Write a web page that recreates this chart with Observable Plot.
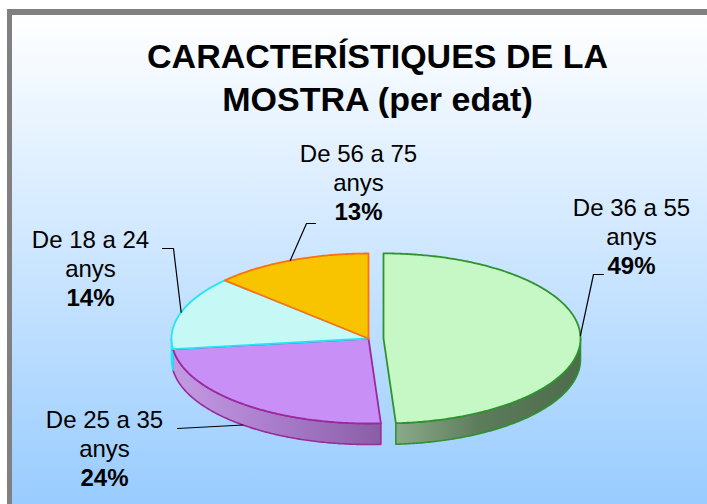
<!DOCTYPE html>
<html><head><meta charset="utf-8">
<script src="https://cdn.jsdelivr.net/npm/d3@7"></script>
<script src="https://cdn.jsdelivr.net/npm/@observablehq/plot@0.6"></script>
<style>
html,body{margin:0;padding:0;overflow:hidden;background:#fff;width:707px;height:504px}
#bg{position:absolute;left:7px;top:9px;width:695px;height:489px;border-top:6px solid #808080;border-left:5px solid #808080;background:linear-gradient(to bottom,#ffffff 0%,#99ccff 100%)}
#chart{position:absolute;left:0;top:0}
</style></head><body>
<div id="bg"></div><div id="chart"></div>
<script>
// ---- data ----
const titleLines = ["CARACTERÍSTIQUES DE LA", "MOSTRA (per edat)"];
const categories = ["De 36 a 55", "De 25 a 35", "De 18 a 24", "De 56 a 75"];
const unitLabel = "anys";
const values = [49, 24, 14, 13];

// ---- styling / layout ----
const topFill   = ["#c6f8c6", "#c890f6", "#c6f8f6", "#f8c400"];
const edgeColor = ["#2f922f", "#9a2a9e", "#22e6f6", "#ff7010"];
const wallIds   = ["wall0", "wall1", "wall2", "wall3"];
const explode   = [15, 0, 0, 0];
const labelPos  = [[631, 216], [104, 428], [90, 248], [358, 162]];
const leaderElbows = [[[593, 274], [603, 274]], [[177, 428]], [[173, 248], [162, 248]], [[306, 223], [315, 223]]];
const CX = 368, CY = 338, RX = 197, RY = 85, DEPTH = 21;
const FONT = "Liberation Sans, Arial, Helvetica, sans-serif";

const arcs = d3.pie().sort(null).value(d => d)(values);
const rim = (cx, cy, a, dz = 0) => [cx + RX * Math.sin(a), cy - RY * Math.cos(a) + dz];

const tops = [], walls = [], leaders = [];
arcs.forEach((arc, i) => {
  const mid = (arc.startAngle + arc.endAngle) / 2;
  const cx = CX + explode[i] * Math.sin(mid);
  const cy = CY - explode[i] * Math.cos(mid) * 0.2;
  const steps = Math.max(8, Math.ceil((arc.endAngle - arc.startAngle) / 0.01));
  const pts = [[cx, cy]];
  for (let k = 0; k <= steps; k++) pts.push(rim(cx, cy, arc.startAngle + (arc.endAngle - arc.startAngle) * k / steps));
  pts.push([cx, cy]);
  pts.forEach(([x, y], k) => tops.push({slice: i, k, x, y}));
  // front wall
  const a0 = Math.max(arc.startAngle, Math.PI / 2), a1 = Math.min(arc.endAngle, 3 * Math.PI / 2);
  if (a1 > a0) {
    const w = [];
    const n = Math.max(4, Math.ceil((a1 - a0) / 0.01));
    for (let k = 0; k <= n; k++) w.push(rim(cx, cy, a0 + (a1 - a0) * k / n));
    for (let k = n; k >= 0; k--) w.push(rim(cx, cy, a0 + (a1 - a0) * k / n, DEPTH));
    w.push(w[0]);
    w.forEach(([x, y], k) => walls.push({slice: i, k, x, y}));
  }
  // leader
  const anchor = rim(cx, cy, mid, Math.cos(mid) < 0 ? DEPTH : 0);
  [anchor, ...leaderElbows[i]].forEach(([x, y], k) => leaders.push({slice: i, k, x, y}));
});

const labelRows = [];
arcs.forEach((arc, i) => {
  const [lx, ly] = labelPos[i];
  labelRows.push({x: lx, y: ly - 8, text: categories[i], bold: false});
  labelRows.push({x: lx, y: ly - 8 + 29, text: unitLabel, bold: false});
  labelRows.push({x: lx, y: ly - 8 + 58, text: values[i] + "%", bold: true});
});

const marks = [];
arcs.forEach((arc, i) => {
  const w = walls.filter(d => d.slice === i);
  if (w.length) marks.push(Plot.line(w, {x: "x", y: "y", fill: `url(#${wallIds[i]})`, stroke: edgeColor[i], strokeWidth: 1.6, curve: "linear"}));
});
arcs.forEach((arc, i) => {
  marks.push(Plot.line(tops.filter(d => d.slice === i), {x: "x", y: "y", fill: topFill[i], stroke: edgeColor[i], strokeWidth: 1.8, strokeLinejoin: "round", curve: "linear"}));
});
marks.push(Plot.line(leaders, {x: "x", y: "y", z: "slice", stroke: "#000", strokeWidth: 1.2, curve: "linear"}));
marks.push(Plot.text(labelRows.filter(d => !d.bold), {x: "x", y: "y", text: "text", fontSize: 24, fill: "#000", fontFamily: FONT}));
marks.push(Plot.text(labelRows.filter(d => d.bold), {x: "x", y: "y", text: "text", fontSize: 24, fontWeight: "bold", fill: "#000", fontFamily: FONT}));
marks.push(Plot.text(titleLines, {x: 377, y: (d, i) => 57 + i * 43, text: d => d, fontSize: 34, fontWeight: "bold", fill: "#000", fontFamily: FONT}));

const svg = Plot.plot({
  width: 707, height: 504, margin: 0,
  x: {domain: [0, 707], range: [0, 707], axis: null},
  y: {domain: [0, 504], range: [0, 504], axis: null},
  style: {background: "transparent", overflow: "visible"},
  marks
});
d3.select(svg).insert("defs", ":first-child").html(`
  <linearGradient id="wall0" x1="0" x2="1" y1="0" y2="0">
    <stop offset="0" stop-color="#8aaa8a"/><stop offset="0.45" stop-color="#5c7c5c"/><stop offset="1" stop-color="#4c6c4c"/>
  </linearGradient>
  <linearGradient id="wall1" x1="0" x2="1" y1="0" y2="0">
    <stop offset="0" stop-color="#c49ae4"/><stop offset="0.5" stop-color="#a97ccb"/><stop offset="1" stop-color="#8a5ea6"/>
  </linearGradient>
  <linearGradient id="wall2" x1="0" x2="1" y1="0" y2="0">
    <stop offset="0" stop-color="#9ee0e0"/><stop offset="1" stop-color="#8cd0d0"/>
  </linearGradient>
  <linearGradient id="wall3" x1="0" x2="1" y1="0" y2="0">
    <stop offset="0" stop-color="#d8a000"/><stop offset="1" stop-color="#c89000"/>
  </linearGradient>`);
document.getElementById("chart").appendChild(svg);
</script>
</body></html>
